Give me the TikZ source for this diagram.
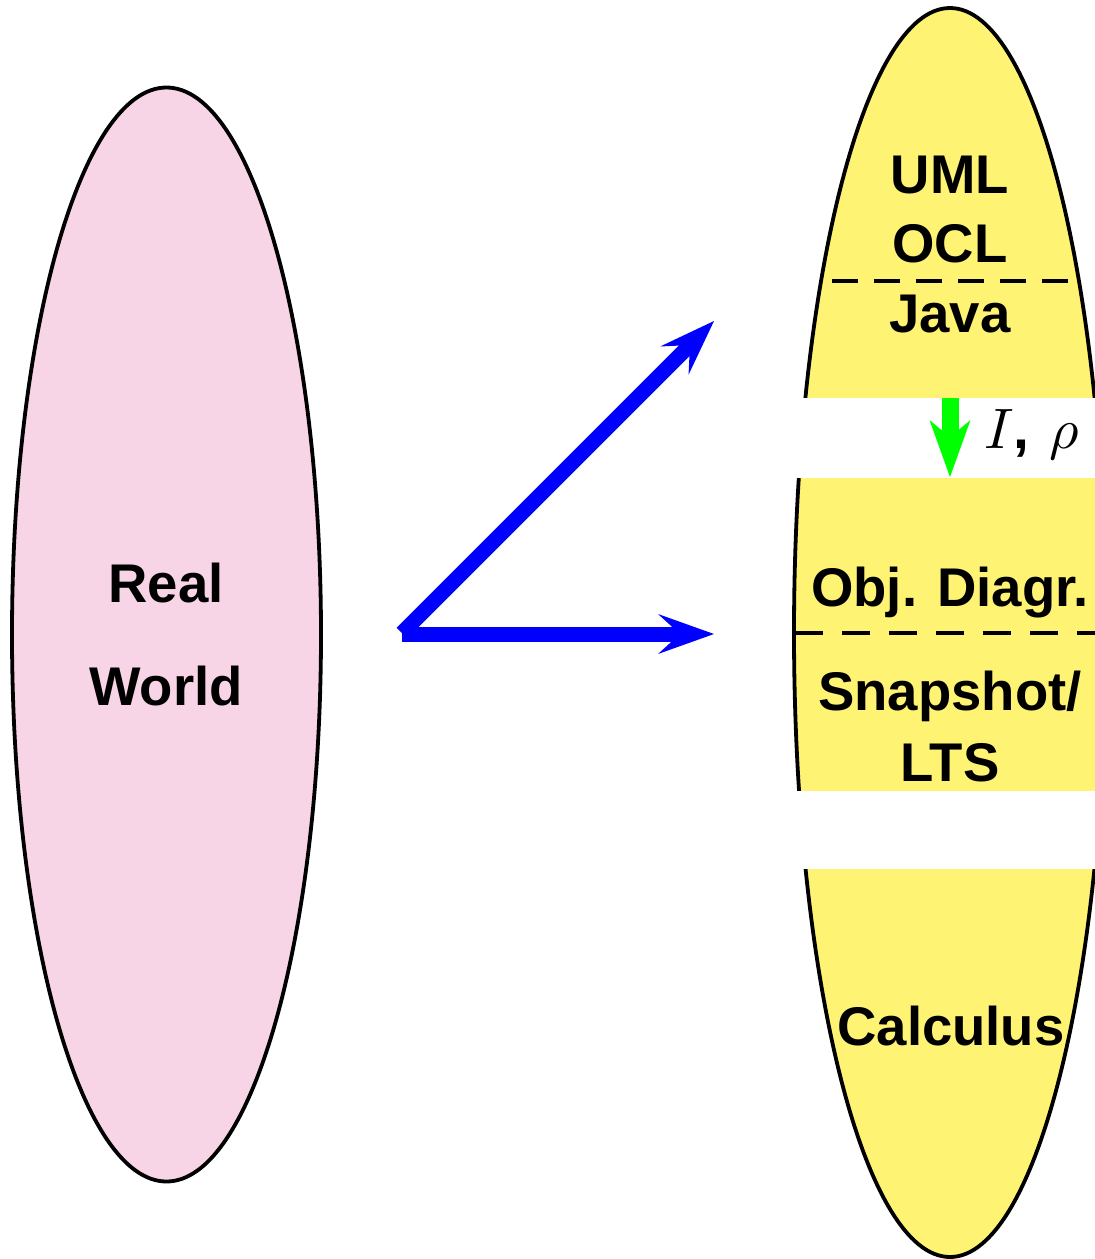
\documentclass[tikz,border=0pt]{standalone}
\usepackage{fontspec}
\setmainfont{Liberation Sans}
% scalable math italic for the large label
\DeclareFontShape{OML}{cmm}{m}{it}{<-> cmmi10}{}
\usetikzlibrary{arrows.meta,shapes.geometric}
\definecolor{worldpink}{RGB}{248,213,230}
\definecolor{modelyellow}{RGB}{255,243,115}
\begin{document}
\begin{tikzpicture}[x=1pt,y=-1pt,
  lbl/.style={font=\fontsize{54.5}{64}\selectfont\bfseries, anchor=base, inner sep=0pt},
  blob/.style={ellipse, draw=black, line width=3.8pt, inner sep=0pt},
  sep/.style={draw=black, line width=3.5pt},
  flow/.style={draw=blue, line width=15pt,
    -{Stealth[length=56pt,width=40pt,inset=22pt,line width=0pt]}},
  interp/.style={draw=green, line width=17pt,
    -{Stealth[length=57pt,width=41pt,inset=17pt,line width=0pt]}}]
\useasboundingbox (0,0) rectangle (1095,1259);

% the two domains
\node[blob, fill=worldpink, minimum width=309pt, minimum height=1094pt] (world) at (166.5,634.5) {};
\node[blob, fill=modelyellow, minimum width=312pt, minimum height=1249pt] (model) at (950,632.5) {};

% gaps between the layers of the model side
\fill[white] (780,398) rectangle (1100,477.5);
\fill[white] (780,791) rectangle (1100,869);

% layer separators
\coordinate (s1a) at (832,281);
\coordinate (s1b) at (1068,281);
\coordinate (s2a) at (795,633);
\coordinate (s2b) at (1100,633);
\draw[sep, dash pattern=on 26pt off 16pt] (s1a) -- (s1b);
\draw[sep, dash pattern=on 28pt off 19pt] (s2a) -- (s2b);

% texts
\node[lbl] (real) at (166,602) {Real};
\node[lbl] (wrld) at (166,705) {World};
\node[lbl] (uml) at (950,193) {UML};
\node[lbl] (ocl) at (950,262) {OCL};
\node[lbl] (java) at (950,332) {Java};
\node[lbl] (obj) at (950,606) {Obj. Diagr.};
\node[lbl] (snap) at (950,710) {Snapshot/};
\node[lbl] (lts) at (950,781) {LTS};
\node[lbl] (calc) at (951,1045) {Calculus};

% modelling arrows
\coordinate (o1) at (402,633);
\coordinate (o2) at (402,634);
\coordinate (t1) at (714,321);
\coordinate (t2) at (714,634);
\draw[flow] (o1) -- (t1);
\draw[flow] (o2) -- (t2);

% interpretation arrow
\coordinate (g1) at (950,398);
\coordinate (g2) at (950,477);
\draw[interp] (g1) -- (g2);
\node[anchor=base west, inner sep=0pt, font=\fontsize{57}{64}\selectfont] (irho) at (984,448) {$I$\textbf{,}\hspace{4pt} $\rho$};
\end{tikzpicture}
\end{document}
